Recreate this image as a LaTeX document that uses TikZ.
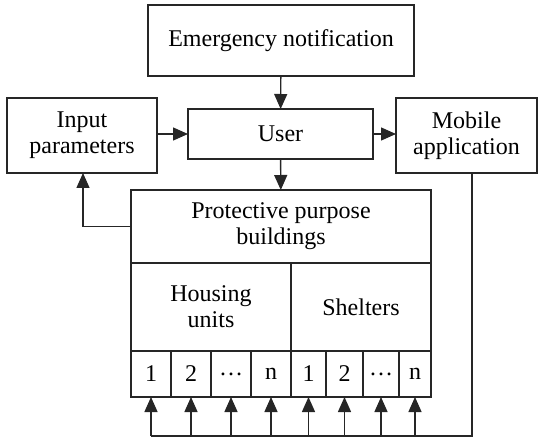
\documentclass[tikz,border=0pt]{standalone}
\usepackage{fontspec}
\setmainfont{Liberation Serif}
\usetikzlibrary{arrows.meta}
\begin{document}
\begin{tikzpicture}[x=1pt,y=-1pt,line width=1.4pt,
box/.style={draw=black!85, inner sep=0pt, outer sep=0pt, align=center,
font=\fontsize{24}{26}\selectfont},
cell/.style={box, minimum height=46},
arr/.style={draw=black!85, -{Triangle[length=15pt,width=13pt]}}]
\useasboundingbox (0,0) rectangle (538,438);
\node[box, minimum width=266, minimum height=71] (emerg) at (281,40.5) {Emergency notification};
\node[box, minimum width=150, minimum height=75] (input) at (82,135.5) {Input\\parameters};
\node[box, minimum width=185, minimum height=50] (user) at (280.5,134) {User};
\node[box, minimum width=141, minimum height=75] (mobile) at (466.5,135.5) {Mobile\\application};
\node[box, minimum width=300, minimum height=73] (prot) at (281,226.5) {Protective purpose\\buildings};
\node[box, minimum width=160, minimum height=88] (housing) at (211,307) {Housing\\units};
\node[box, minimum width=140, minimum height=88] (shelters) at (361,307) {Shelters};
% numbered cells
\node[cell, minimum width=40] (c1) at (151,374) {1};
\node[cell, minimum width=40] (c2) at (191,374) {2};
\node[cell, minimum width=40] (c3) at (231,374) {\ldots};
\node[cell, minimum width=40] (c4) at (271,374) {n};
\node[cell, minimum width=35] (c5) at (308.5,374) {1};
\node[cell, minimum width=37] (c6) at (344.5,374) {2};
\node[cell, minimum width=36] (c7) at (381,374) {\ldots};
\node[cell, minimum width=32] (c8) at (415,374) {n};
\coordinate (bus) at (472,436);
\coordinate (back) at (83,226.5);
\draw[arr] (emerg) -- (user);
\draw[arr] (input.east |- user) -- (user);
\draw[arr] (user) -- (mobile.west |- user);
\draw[arr] (user) -- (prot);
\draw[arr] (prot.west) -- (back) -- (input.south -| back);
\draw[draw=black!85] (bus |- mobile.south) -- (bus) -- (c1.south |- bus);
\draw[arr] (c1.south |- bus) -- (c1.south);
\draw[arr] (c2.south |- bus) -- (c2.south);
\draw[arr] (c3.south |- bus) -- (c3.south);
\draw[arr] (c4.south |- bus) -- (c4.south);
\draw[arr] (c5.south |- bus) -- (c5.south);
\draw[arr] (c6.south |- bus) -- (c6.south);
\draw[arr] (c7.south |- bus) -- (c7.south);
\draw[arr] (c8.south |- bus) -- (c8.south);
\end{tikzpicture}
\end{document}
